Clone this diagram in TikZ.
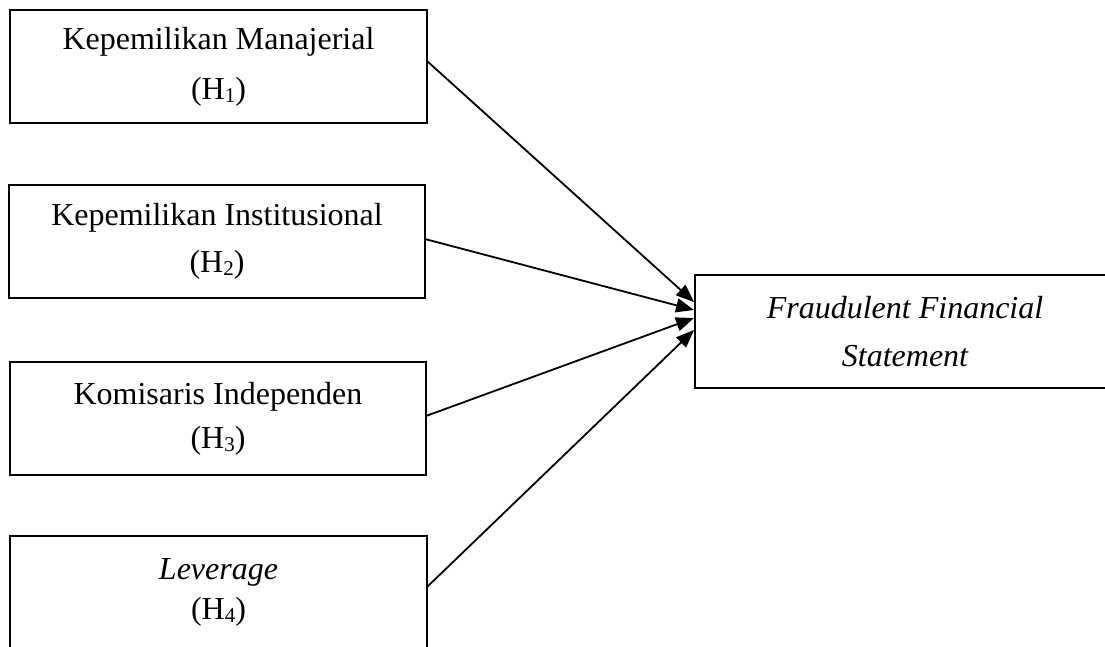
\documentclass[tikz,border=0pt]{standalone}
\usepackage{fontspec}
\setmainfont{Liberation Serif}
\usetikzlibrary{arrows.meta}
\newcommand{\hsub}[1]{\raisebox{-3pt}{\fontsize{21}{21}\selectfont #1}}
\begin{document}
\begin{tikzpicture}[x=1pt,y=-1pt,
  box/.style={draw, line width=2.4pt, rectangle, inner sep=0pt, outer sep=0pt,
    align=center, minimum height=113pt},
  link/.style={line width=1.8pt, -{Triangle[length=18pt,width=14pt]}}]
\useasboundingbox (0,0) rectangle (1105,646);
\node[box, minimum width=417pt, font=\fontsize{32}{50}\selectfont] (b1) at (218.5,66.5)
  {Kepemilikan Manajerial\\(H\hsub{1})};
\node[box, minimum width=416pt, font=\fontsize{32}{47}\selectfont] (b2) at (217,241.5)
  {Kepemilikan Institusional\\(H\hsub{2})};
\node[box, minimum width=416pt, font=\fontsize{32}{44}\selectfont] (b3) at (218,418.5)
  {Komisaris Independen\\(H\hsub{3})};
\node[box, minimum width=417pt, font=\fontsize{32}{40}\selectfont] (b4) at (218.5,592.5)
  {\textit{Leverage}\\(H\hsub{4})};
\node[box, minimum width=420pt, font=\fontsize{32}{48}\selectfont\itshape] (t) at (905,331.5)
  {Fraudulent Financial\\Statement};
\draw[link] ([yshift=5.5pt]b1.east) -- ([yshift=29.5pt,xshift=-1pt]t.west);
\draw[link] ([yshift=2.5pt]b2.east) -- ([yshift=21.5pt,xshift=-1pt]t.west);
\draw[link] ([yshift=2.5pt]b3.east) -- ([yshift=13.5pt,xshift=-1pt]t.west);
\draw[link] ([yshift=5.5pt]b4.east) -- ([yshift=1.5pt,xshift=-1pt]t.west);
\end{tikzpicture}
\end{document}
